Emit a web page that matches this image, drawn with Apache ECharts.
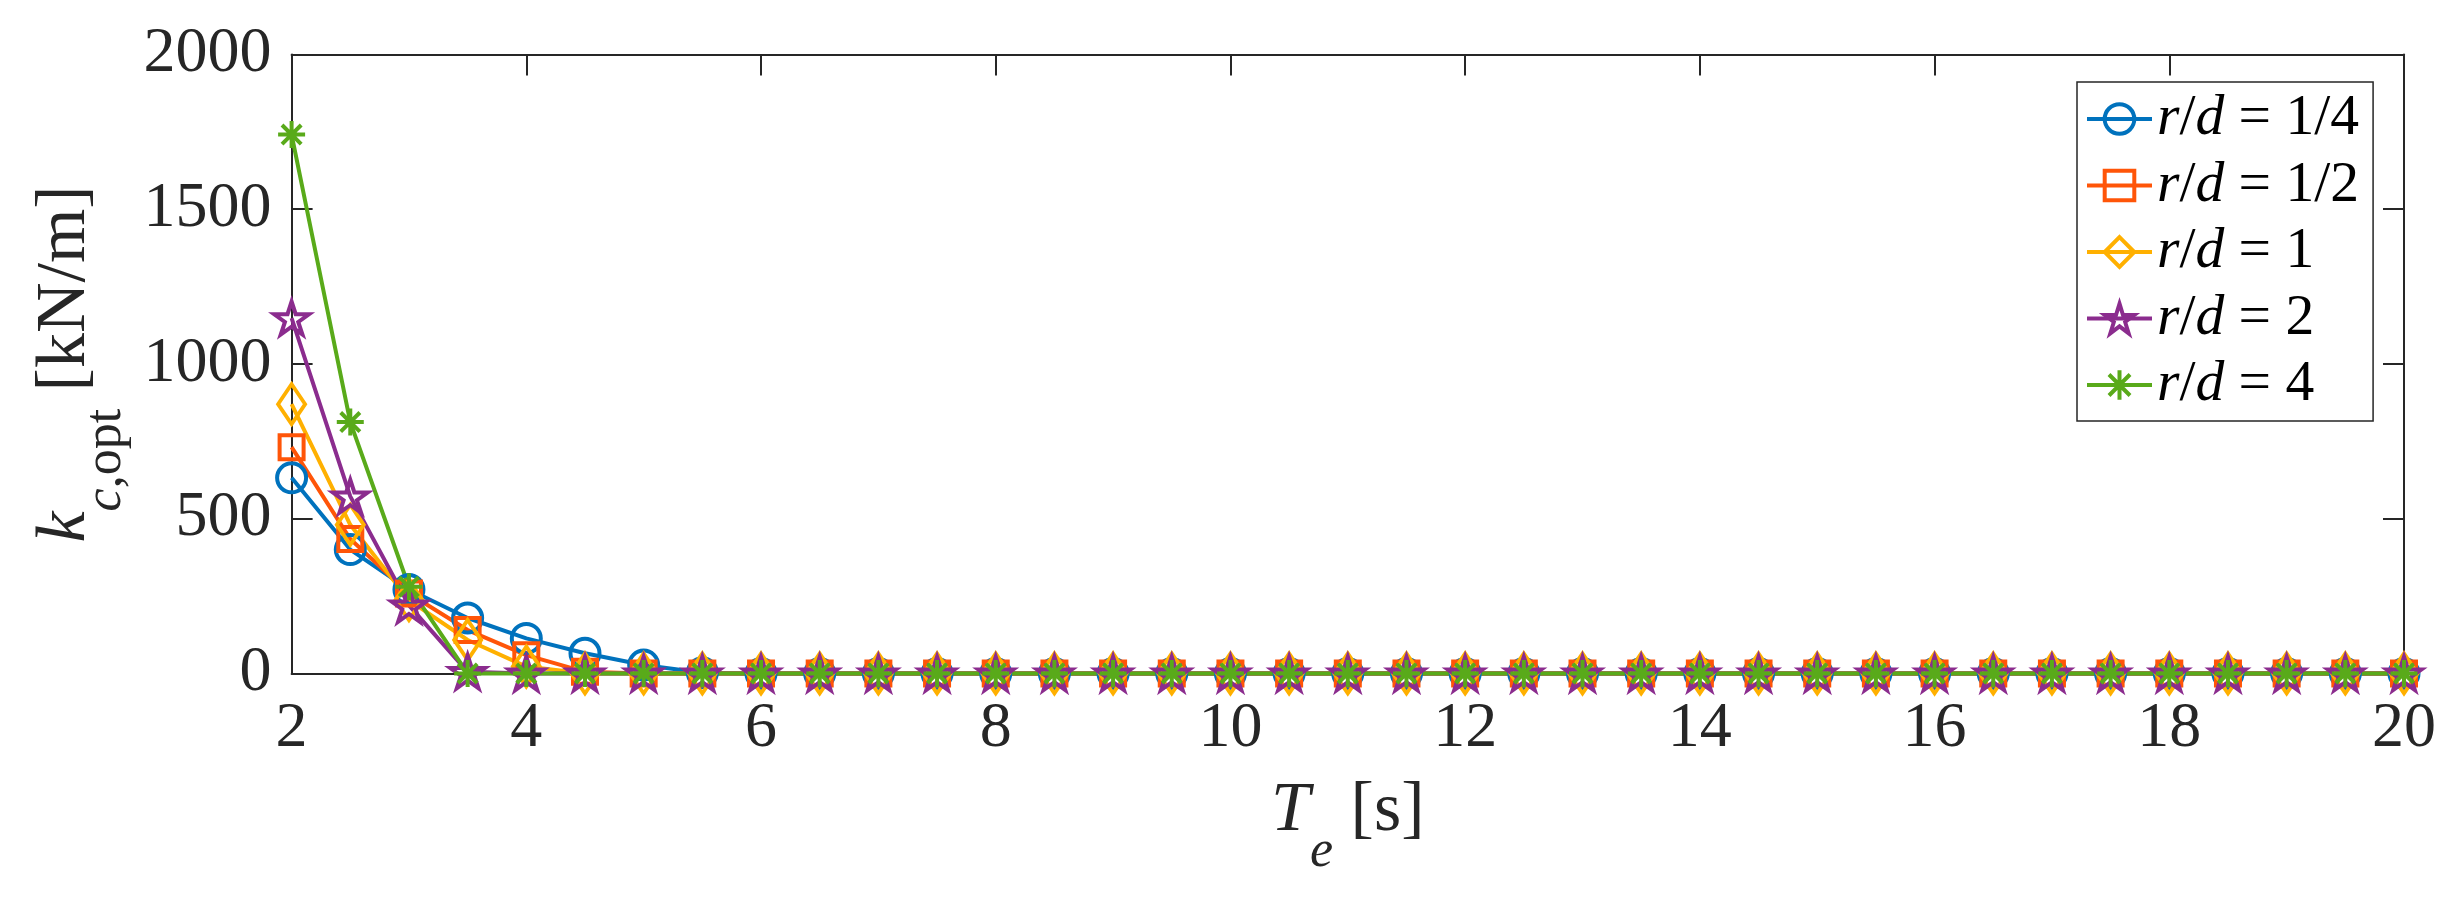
<!DOCTYPE html>
<html>
<head>
<meta charset="utf-8">
<script src="https://cdn.jsdelivr.net/npm/echarts@6/dist/echarts.min.js"></script>
<style>
html,body{margin:0;padding:0;background:#fff;}
#chart{width:2453px;height:899px;}
</style>
</head>
<body>
<div id="chart"></div>
<script>
// ---- data ----
const xValues = [2, 2.5, 3, 3.5, 4, 4.5, 5, 5.5, 6, 6.5, 7, 7.5, 8, 8.5, 9, 9.5, 10, 10.5, 11, 11.5,
  12, 12.5, 13, 13.5, 14, 14.5, 15, 15.5, 16, 16.5, 17, 17.5, 18, 18.5, 19, 19.5, 20];

const seriesNames = ['r/d = 1/4', 'r/d = 1/2', 'r/d = 1', 'r/d = 2', 'r/d = 4'];

const rd14 = [632, 400, 271, 179, 113, 65, 27, 2,
  0, 0, 0, 0, 0, 0, 0, 0, 0, 0, 0, 0, 0, 0, 0, 0, 0, 0, 0, 0, 0, 0, 0, 0, 0, 0, 0, 0, 0];
const rd12 = [731, 434, 258, 140, 59, 5,
  0, 0, 0, 0, 0, 0, 0, 0, 0, 0, 0, 0, 0, 0, 0, 0, 0, 0, 0, 0, 0, 0, 0, 0, 0, 0, 0, 0, 0, 0, 0];
const rd1 = [870, 480, 237, 108, 22,
  0, 0, 0, 0, 0, 0, 0, 0, 0, 0, 0, 0, 0, 0, 0, 0, 0, 0, 0, 0, 0, 0, 0, 0, 0, 0, 0, 0, 0, 0, 0, 0];
const rd2 = [1148, 572, 220, 5,
  0, 0, 0, 0, 0, 0, 0, 0, 0, 0, 0, 0, 0, 0, 0, 0, 0, 0, 0, 0, 0, 0, 0, 0, 0, 0, 0, 0, 0, 0, 0, 0, 0];
const rd4 = [1741, 812, 280, 0,
  0, 0, 0, 0, 0, 0, 0, 0, 0, 0, 0, 0, 0, 0, 0, 0, 0, 0, 0, 0, 0, 0, 0, 0, 0, 0, 0, 0, 0, 0, 0, 0, 0];

const xTickLabels = ['2', '4', '6', '8', '10', '12', '14', '16', '18', '20'];
const yTickLabels = ['0', '500', '1000', '1500', '2000'];

// ---- styling ----
const F = 'Liberation Serif';
const AX = '#262626';
const colors = ['#0072BD', '#FF5508', '#FFB000', '#8B2C8E', '#59AA1A'];
const LW = 4;

const STAR = 'path://M0,-1 L0.2245,-0.309 L0.951,-0.309 L0.363,0.118 L0.588,0.809 L0,0.382 L-0.588,0.809 L-0.363,0.118 L-0.951,-0.309 L-0.2245,-0.309 Z';
const ASTER = 'path://M0,-1 L0,1 M-1,0 L1,0 M-0.71,-0.71 L0.71,0.71 M-0.71,0.71 L0.71,-0.71';
const CLEAR = 'rgba(0,0,0,0)';

const markers = [
  { symbol: 'circle', size: 29 },
  { symbol: 'rect', size: 24 },
  { symbol: 'diamond', size: [27, 40] },
  { symbol: STAR, size: [35, 33] },
  { symbol: ASTER, size: 27 }
];

const seriesValues = [rd14, rd12, rd1, rd2, rd4];

const series = seriesValues.map((vals, i) => ({
  name: seriesNames[i],
  type: 'line',
  xAxisIndex: 0,
  yAxisIndex: 0,
  data: xValues.map((x, k) => [x, vals[k]]),
  symbol: markers[i].symbol,
  symbolSize: markers[i].size,
  showAllSymbol: true,
  clip: false,
  silent: true,
  lineStyle: { color: colors[i], width: LW },
  itemStyle: { color: CLEAR, borderColor: colors[i], borderWidth: LW },
  emphasis: { disabled: true }
}));

const nameRich = {
  ti: { fontFamily: F, fontStyle: 'italic', fontSize: 70, lineHeight: 134, verticalAlign: 'middle', color: AX },
  n: { fontFamily: F, fontSize: 70, lineHeight: 134, verticalAlign: 'middle', color: AX },
  si: { fontFamily: F, fontStyle: 'italic', fontSize: 52, lineHeight: 52, verticalAlign: 'bottom', color: AX },
  sn: { fontFamily: F, fontSize: 52, lineHeight: 52, verticalAlign: 'bottom', color: AX }
};

const tickFont = { fontFamily: F, fontSize: 64, color: AX };

const option = {
  backgroundColor: '#fff',
  animation: false,
  grid: {
    left: 291.6, right: 49, top: 54.4, bottom: 225.6,
    containLabel: false, outerBoundsMode: 'none'
  },
  xAxis: [
    {
      type: 'value', min: 2, max: 20, interval: 2, position: 'bottom',
      name: '{ti|T}{si|e}{n| [s]}',
      nameLocation: 'middle', nameGap: 71, nameMoveOverlap: false,
      nameTextStyle: { fontFamily: F, fontSize: 70, color: AX, rich: nameRich },
      axisLine: { show: true, onZero: false, lineStyle: { color: AX, width: 2 } },
      axisTick: { show: true, inside: true, length: 21, lineStyle: { color: AX, width: 2 } },
      axisLabel: Object.assign({ margin: 24, formatter: v => xTickLabels[xTickLabels.indexOf(String(v))] || '' }, tickFont),
      splitLine: { show: false }
    },
    {
      type: 'value', min: 2, max: 20, interval: 2, position: 'top',
      axisLine: { show: true, onZero: false, lineStyle: { color: AX, width: 2 } },
      axisTick: { show: true, inside: true, length: 21, lineStyle: { color: AX, width: 2 } },
      axisLabel: { show: false },
      splitLine: { show: false }
    }
  ],
  yAxis: [
    {
      type: 'value', min: 0, max: 2000, interval: 500, position: 'left',
      name: '{ti|k}{si|c}{sn|,opt}{n| [kN/m]}',
      nameLocation: 'middle', nameGap: 159, nameRotate: 90, nameMoveOverlap: false,
      nameTextStyle: { fontFamily: F, fontSize: 70, color: AX, rich: nameRich },
      axisLine: { show: true, onZero: false, lineStyle: { color: AX, width: 2 } },
      axisTick: { show: true, inside: true, length: 21, lineStyle: { color: AX, width: 2 } },
      axisLabel: Object.assign({ margin: 20, formatter: v => yTickLabels[yTickLabels.indexOf(String(v))] || '' }, tickFont),
      splitLine: { show: false }
    },
    {
      type: 'value', min: 0, max: 2000, interval: 500, position: 'right',
      axisLine: { show: true, onZero: false, lineStyle: { color: AX, width: 2 } },
      axisTick: { show: true, inside: true, length: 21, lineStyle: { color: AX, width: 2 } },
      axisLabel: { show: false },
      splitLine: { show: false }
    }
  ],
  legend: {
    orient: 'vertical',
    left: 2077, top: 82,
    padding: [8, 14, 7, 8],
    itemGap: 8.5,
    itemWidth: 65,
    itemHeight: 37,
    selectedMode: false,
    backgroundColor: '#fff',
    borderColor: AX,
    borderWidth: 1.5,
    borderRadius: 0,
    itemStyle: { borderWidth: LW },
    lineStyle: { width: LW },
    data: seriesNames,
    formatter: name => {
      const rest = name.slice(3);
      return '{i|r}{n|/}{i|d}{n|' + rest + '}';
    },
    textStyle: {
      fontFamily: F, fontSize: 57.6, color: '#000', lineHeight: 58,
      rich: {
        i: { fontFamily: F, fontStyle: 'italic', fontSize: 57.6, lineHeight: 58, color: '#000' },
        n: { fontFamily: F, fontSize: 57.6, lineHeight: 58, color: '#000' }
      }
    }
  },
  series: series
};

const chart = echarts.init(document.getElementById('chart'), null, { renderer: 'canvas' });
chart.setOption(option);
</script>
</body>
</html>
